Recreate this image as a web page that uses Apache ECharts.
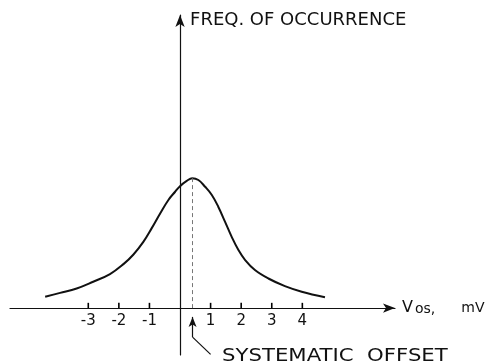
<!DOCTYPE html>
<html>
<head>
<meta charset="utf-8">
<script src="https://cdn.jsdelivr.net/npm/echarts@6/dist/echarts.min.js"></script>
<style>
  html, body { margin: 0; padding: 0; background: #fff; }
  #chart { width: 489px; height: 362px; }
</style>
</head>
<body>
<div id="chart"></div>
<script>
// distribution of offset voltage
const vosValues = [-4.41, -3.92, -3.38, -2.84, -2.29, -1.85, -1.53, -1.2, -0.93, -0.65, -0.38, -0.16, 0, 0.22, 0.4,
  0.6, 0.82, 1.04, 1.25, 1.47, 1.69, 1.91, 2.13, 2.45, 2.89, 3.43, 3.98, 4.74]
const freqValues = [0.39, 0.52, 0.67, 0.9, 1.16, 1.5, 1.82, 2.26, 2.72, 3.23, 3.69, 3.97, 4.16, 4.34, 4.43,
  4.37, 4.14, 3.86, 3.46, 2.95, 2.43, 1.98, 1.64, 1.3, 1.01, 0.75, 0.56, 0.37]

// tick marks on the Vos axis
const tickValues = [-3, -2, -1, 1, 2, 3, 4]
const tickLabels = ['-3', '-2', '-1', '1', '2', '3', '4']
const tickHeight = 0.18

// systematic offset (peak) and the pointer under the axis
const offsetVos = 0.41
const offsetFreq = 4.43
const pointerStem = [[0.41, -0.3], [0.41, -0.99]]
const pointerTail = [[0.41, -0.99], [1.0, -1.58]]

const font = 'DejaVu Sans'
const ink = '#111'

const chart = echarts.init(document.getElementById('chart'))

const solid = { color: ink, width: 1.2, type: 'solid' }

chart.setOption({
  animation: false,
  grid: {
    left: 10,
    right: 94,
    top: 15,
    bottom: 7,
    containLabel: false,
    outerBoundsMode: 'none'
  },
  xAxis: {
    type: 'value',
    min: -5.56,
    max: 7.03,
    name: '{v|V}{s|os,}{u|mV}',
    nameLocation: 'end',
    nameGap: 7,
    nameTextStyle: {
      align: 'left',
      verticalAlign: 'middle',
      rich: {
        v: { fontFamily: font, fontSize: 16, color: ink },
        s: { fontFamily: font, fontSize: 14, color: ink, padding: [3, 0, 0, 2] },
        u: { fontFamily: font, fontSize: 14, color: ink, padding: [0, 0, 0, 26] }
      }
    },
    axisLine: {
      onZero: true,
      symbol: ['none', 'arrow'],
      symbolSize: [7, 12],
      lineStyle: { color: ink, width: 1.2 }
    },
    axisTick: { show: false },
    axisLabel: {
      customValues: tickValues,
      formatter: v => tickLabels[tickValues.indexOf(v)],
      // labels stay at the grid bottom, pull them up under freq = 0
      margin: -41,
      fontFamily: font,
      fontSize: 15,
      color: ink
    },
    splitLine: { show: false }
  },
  yAxis: {
    type: 'value',
    min: -1.6,
    max: 10,
    name: 'FREQ. OF OCCURRENCE',
    nameLocation: 'end',
    nameGap: -5,
    nameTextStyle: {
      align: 'left',
      verticalAlign: 'middle',
      padding: [0, 0, 0, 10],
      fontFamily: font,
      fontSize: 18,
      color: ink
    },
    axisLine: {
      onZero: true,
      symbol: ['none', 'arrow'],
      symbolSize: [7, 12],
      lineStyle: { color: ink, width: 1.2 }
    },
    axisTick: { show: false },
    axisLabel: { show: false },
    splitLine: { show: false }
  },
  graphic: [
    {
      type: 'text',
      left: 222,
      top: 347,
      scaleX: 1.18,
      style: {
        text: 'SYSTEMATIC  OFFSET',
        fontFamily: font,
        fontSize: 18,
        fill: ink
      }
    }
  ],
  series: [
    {
      type: 'line',
      data: vosValues.map((x, i) => [x, freqValues[i]]),
      smooth: 0.4,
      showSymbol: false,
      lineStyle: { color: ink, width: 2 },
      markLine: {
        silent: true,
        symbol: 'none',
        label: { show: false },
        data: [
          [
            { coord: [offsetVos, 0], lineStyle: { color: '#777', width: 1, type: [4, 3] } },
            { coord: [offsetVos, offsetFreq] }
          ],
          [
            { coord: pointerStem[1], lineStyle: solid, symbol: 'none' },
            { coord: pointerStem[0], symbol: 'arrow', symbolSize: [6, 10] }
          ],
          [
            { coord: pointerTail[0], lineStyle: solid },
            { coord: pointerTail[1] }
          ]
        ]
      }
    },
    {
      // short upward ticks standing on the Vos axis
      type: 'bar',
      silent: true,
      z: 10,
      barWidth: 1.6,
      data: tickValues.map(v => [v, tickHeight]),
      itemStyle: { color: '#000' }
    }
  ]
})

window.addEventListener('resize', () => chart.resize())
</script>
</body>
</html>
